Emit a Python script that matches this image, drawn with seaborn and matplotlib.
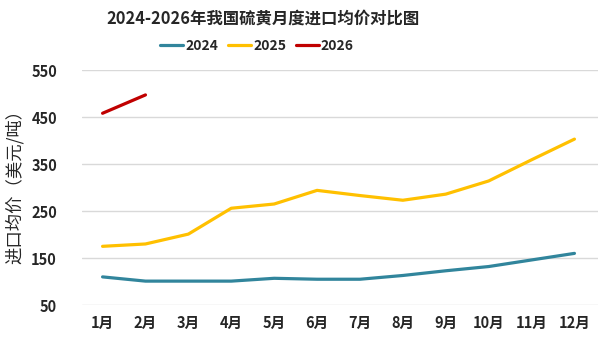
import matplotlib
matplotlib.use("Agg")
import matplotlib.pyplot as plt
import seaborn as sns
import pandas as pd
from matplotlib.lines import Line2D

months = ["1月", "2月", "3月", "4月", "5月", "6月", "7月", "8月", "9月", "10月", "11月", "12月"]
price_2024 = [110, 101, 101, 101, 107, 105, 105, 113, 123, 132, 146, 160]
price_2025 = [175, 180, 201, 256, 265, 294, 283, 273, 286, 314, 359, 403]
price_2026 = [458, 497]
years = ["2024", "2025", "2026"]
colors = ["#31859C", "#FFC000", "#C00000"]
yticks = [50, 150, 250, 350, 450, 550]

rows = []
for yr, vals in zip(years, [price_2024, price_2025, price_2026]):
    for i, v in enumerate(vals):
        rows.append({"month": i, "year": yr, "price": v})
df = pd.DataFrame(rows)

sns.set_theme(style="white")
plt.rcParams["font.family"] = ["Noto Sans CJK SC", "DejaVu Sans"]

fig = plt.figure(figsize=(6.05, 3.39), dpi=100)
ax = fig.add_axes([0.1355, 0.100, 0.853, 0.6935])

sns.lineplot(data=df, x="month", y="price", hue="year", palette=dict(zip(years, colors)),
             linewidth=2.3, ax=ax, legend=False, sort=True)

ax.set_ylim(50, 550)
ax.set_xlim(-0.48, 11.55)
ax.set_yticks(yticks)
ax.set_yticklabels([str(t) for t in yticks], fontsize=10.5, fontweight="bold")
ax.set_xticks(range(len(months)))
ax.set_xticklabels(months, fontsize=10.5, fontweight="bold")
ax.yaxis.grid(True, color="#D9D9D9", linewidth=1)
ax.set_axisbelow(True)
for s in ax.spines.values():
    s.set_visible(False)
ax.tick_params(axis="both", length=0)
ax.tick_params(axis="y", pad=18)
ax.tick_params(axis="x", pad=7)
ax.set_xlabel("")
ax.set_ylabel("进口均价（美元/吨）", fontsize=12.5, fontweight="medium", labelpad=3)
ax.yaxis.set_label_coords(-0.112, 0.52)

fig.text(0.435, 0.945, "2024-2026年我国硫黄月度进口均价对比图", ha="center", va="center",
         fontsize=11.8, fontweight="bold")

handles = [Line2D([], [], color=c, linewidth=2.3) for c in colors]
fig.legend(handles, years, loc="center", bbox_to_anchor=(0.425, 0.865), ncol=3, frameon=False,
           prop={"weight": "bold", "size": 10}, handlelength=1.65, handletextpad=0.15,
           columnspacing=0.7)

fig.savefig("out.png", dpi=100)
